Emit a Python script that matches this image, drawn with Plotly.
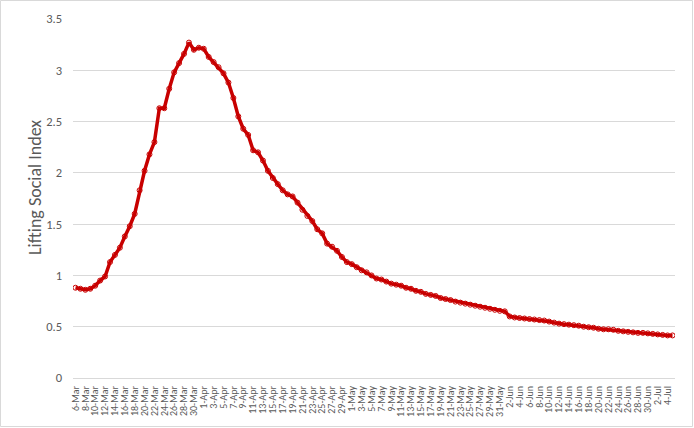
import plotly.graph_objects as go
import pandas as pd

dates = pd.date_range("2020-03-06", "2020-07-05", freq="D")
date_labels = [f"{d.day}-{d.strftime('%b')}" for d in dates]

index_values = [
    0.88, 0.87, 0.86, 0.87, 0.90, 0.95, 0.99, 1.13, 1.20, 1.27,   # 6-15 Mar
    1.38, 1.48, 1.60, 1.83, 2.02, 2.18, 2.30, 2.63, 2.63, 2.82,   # 16-25 Mar
    2.98, 3.07, 3.16, 3.27, 3.20, 3.22, 3.21, 3.13, 3.08, 3.03,   # 26 Mar-4 Apr
    2.97, 2.88, 2.73, 2.55, 2.43, 2.37, 2.22, 2.20, 2.12, 2.02,   # 5-14 Apr
    1.95, 1.89, 1.83, 1.79, 1.77, 1.71, 1.64, 1.58, 1.53, 1.45,   # 15-24 Apr
    1.41, 1.31, 1.28, 1.24, 1.18, 1.13, 1.11, 1.08, 1.05, 1.03,   # 25 Apr-4 May
    1.00, 0.97, 0.96, 0.94, 0.92, 0.91, 0.90, 0.88, 0.87, 0.85,   # 5-14 May
    0.84, 0.82, 0.81, 0.80, 0.78, 0.77, 0.76, 0.745, 0.735, 0.725, # 15-24 May
    0.715, 0.705, 0.695, 0.685, 0.675, 0.665, 0.655, 0.65, 0.60, 0.59,  # 25 May-3 Jun
    0.585, 0.58, 0.575, 0.57, 0.565, 0.56, 0.55, 0.54, 0.53, 0.525,  # 4-13 Jun
    0.52, 0.515, 0.51, 0.50, 0.495, 0.49, 0.48, 0.475, 0.475, 0.47,  # 14-23 Jun
    0.46, 0.455, 0.45, 0.445, 0.44, 0.44, 0.435, 0.43, 0.425, 0.42,  # 24 Jun-3 Jul
    0.415, 0.415,                                                   # 4-5 Jul
]

y_ticks = [0, 0.5, 1, 1.5, 2, 2.5, 3, 3.5]
y_tick_text = ["0", "0.5", "1", "1.5", "2", "2.5", "3", "3.5"]

line_color = "#C80000"
font_family = "Carlito, Calibri, 'Liberation Sans', Arial, sans-serif"

fig = go.Figure()
fig.add_trace(go.Scatter(
    x=list(range(len(index_values))),
    y=index_values,
    mode="lines+markers",
    line=dict(color=line_color, width=3.5),
    marker=dict(symbol="circle-open", size=5, color=line_color, line=dict(width=1, color=line_color)),
    hoverinfo="y",
    showlegend=False,
))

L, R, T, B = 73, 19, 19, 50
W, H = 694, 428
pw, ph = W - L - R, H - T - B

fig.update_layout(
    width=W, height=H,
    margin=dict(l=L, r=R, t=T, b=B, pad=0, autoexpand=False),
    paper_bgcolor="white", plot_bgcolor="white",
    font=dict(family=font_family, color="#595959"),
    xaxis=dict(
        range=[-0.5, len(index_values) - 0.5],
        tickmode="array",
        tickvals=list(range(0, len(index_values), 2)),
        ticktext=date_labels[::2],
        tickangle=-90,
        tickfont=dict(size=10, color="#595959"),
        showgrid=False, zeroline=False,
        showline=True, linecolor="#D9D9D9", linewidth=1,
        ticks="", ticklabelstandoff=3,
        automargin=False,
        fixedrange=True,
    ),
    yaxis=dict(
        range=[0, 3.5],
        tickmode="array", tickvals=y_ticks, ticktext=y_tick_text,
        tickfont=dict(size=12.5, color="#595959"),
        showgrid=True, gridcolor="#D9D9D9", gridwidth=1,
        zeroline=False, showline=False,
        ticks="", ticklabelstandoff=10,
        automargin=False,
        fixedrange=True,
    ),
    annotations=[dict(
        text="Lifting Social Index", xref="paper", yref="paper",
        x=(35 - L) / pw, y=(378 - 188) / ph, textangle=-90,
        showarrow=False, xanchor="center", yanchor="middle",
        font=dict(size=18, color="#595959"),
    )],
    shapes=[dict(
        type="rect", xref="paper", yref="paper",
        x0=(0.5 - L) / pw, x1=(W - 1.5 - L) / pw,
        y0=-(B - 1.5) / ph, y1=(ph + T - 0.5) / ph,
        line=dict(color="#D9D9D9", width=1), fillcolor="rgba(0,0,0,0)", layer="above",
    )],
)

fig.write_html(
    "out.html",
    config={"displayModeBar": False},
    post_script="document.body.style.margin='0';document.body.style.overflow='hidden';",
)
